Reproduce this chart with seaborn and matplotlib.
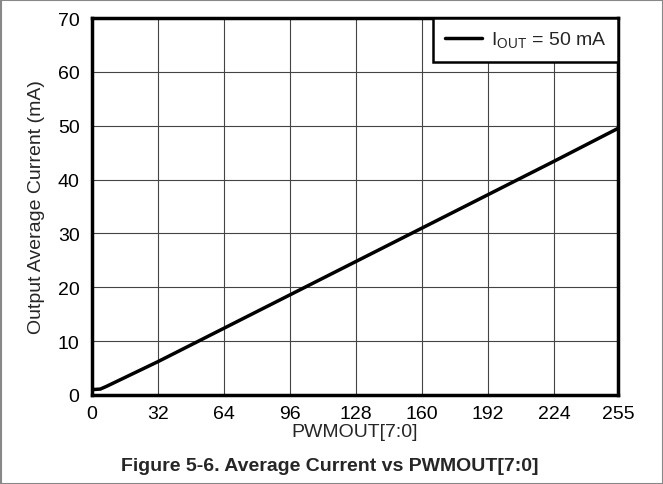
import matplotlib
matplotlib.use("Agg")
import matplotlib.pyplot as plt
import seaborn as sns
import pandas as pd
from matplotlib.patches import Rectangle

pwm = [0, 4, 7, 32, 64, 96, 128, 160, 192, 224, 255]
current = [1.0, 1.1, 1.6, 6.2, 12.4, 18.6, 24.8, 31.0, 37.2, 43.4, 49.5]
xticks = [0, 32, 64, 96, 128, 160, 192, 224, 255]
yticks = [0, 10, 20, 30, 40, 50, 60, 70]
series_label = r"I$_{\mathregular{OUT}}$ = 50 mA"

sns.set_theme(style="white")
plt.rcParams['font.family'] = ['Liberation Sans', 'DejaVu Sans']
plt.rcParams['mathtext.fontset'] = 'custom'
plt.rcParams['mathtext.rm'] = 'Liberation Sans'

df = pd.DataFrame({"PWMOUT": pwm, "Current": current})

fig = plt.figure(figsize=(6.63, 4.85), dpi=100)
ax = fig.add_axes([92/663, 1 - 396/485, (618-92)/663, (396-19)/485])

sns.lineplot(data=df, x="PWMOUT", y="Current", ax=ax, color="black", linewidth=2.5,
             label=series_label)

ax.set_xlim(0, 255)
ax.set_ylim(0, 70)
ax.set_xticks(xticks)
ax.set_yticks(yticks)
ax.tick_params(axis='both', labelsize=14, length=0, colors='black')
ax.tick_params(axis='y', pad=9)
ax.tick_params(axis='x', pad=7)
ax.grid(True, color='#444444', linewidth=0.8)
for s in ax.spines.values():
    s.set_visible(True)
    s.set_color('black')
    s.set_linewidth(2.5)
ax.set_xlabel("PWMOUT[7:0]", fontsize=14, labelpad=1)
ax.set_ylabel("Output Average Current (mA)", fontsize=14, labelpad=9)

leg = ax.legend(loc='upper right', borderaxespad=0, fontsize=14, frameon=True,
                fancybox=False, handlelength=1.9, borderpad=0.6, handletextpad=0.45)
leg.get_frame().set_edgecolor('black')
leg.get_frame().set_linewidth(1.8)
leg.get_frame().set_alpha(1)

fig.text(330/663, 1 - 467/485, "Figure 5-6. Average Current vs PWMOUT[7:0]",
         ha='center', va='center', fontsize=14, fontweight='bold')

fig.patches.append(Rectangle((0.5/663, 0.5/485), 1 - 1/663, 1 - 1/485,
                             transform=fig.transFigure, fill=False,
                             edgecolor='#888888', linewidth=1.5))

fig.savefig("out.png", dpi=100)
